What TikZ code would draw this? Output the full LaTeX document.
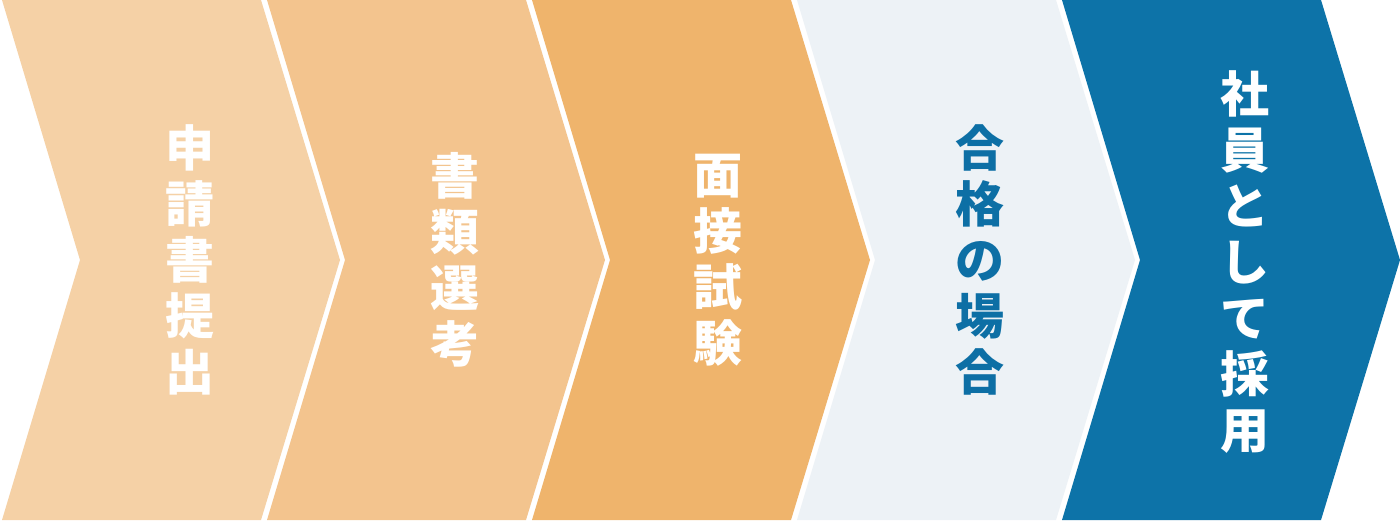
\documentclass[tikz,border=0pt]{standalone}
\usepackage{fontspec}
\newfontfamily\jp{Noto Sans CJK JP}
\definecolor{cA}{HTML}{F5D1A6}
\definecolor{cB}{HTML}{F3C48E}
\definecolor{cC}{HTML}{EFB46C}
\definecolor{cD}{HTML}{EDF2F6}
\definecolor{cE}{HTML}{0D73A8}
\definecolor{tBlue}{HTML}{0D6FA5}
\begin{document}
\begin{tikzpicture}[x=1pt,y=-1pt,
  steptext/.style={align=center,inner sep=0pt,font=\jp\bfseries\fontsize{49}{56}\selectfont},
  chev/.pic={\fill[#1] (0,0) -- (259,0) -- (338,260) -- (259,520) -- (0,520) -- (78,260) -- cycle;}]
\useasboundingbox (0,0) rectangle (1400,520);
\fill[white] (0,0) rectangle (1400,520);
\pic at (2,0) {chev=cA};
\pic at (267,0) {chev=cB};
\pic at (532,0) {chev=cC};
\pic at (797,0) {chev=cD};
\pic at (1062,0) {chev=cE};
\node[steptext,text=white] (s1) at (190,260) {申\\請\\書\\提\\出};
\node[steptext,text=white] (s2) at (455,260) {書\\類\\選\\考};
\node[steptext,text=white] (s3) at (718,260) {面\\接\\試\\験};
\node[steptext,text=tBlue] (s4) at (980,260) {合\\格\\の\\場\\合};
\node[steptext,text=white] (s5) at (1245,262) {社\\員\\と\\し\\て\\採\\用};
\end{tikzpicture}
\end{document}
